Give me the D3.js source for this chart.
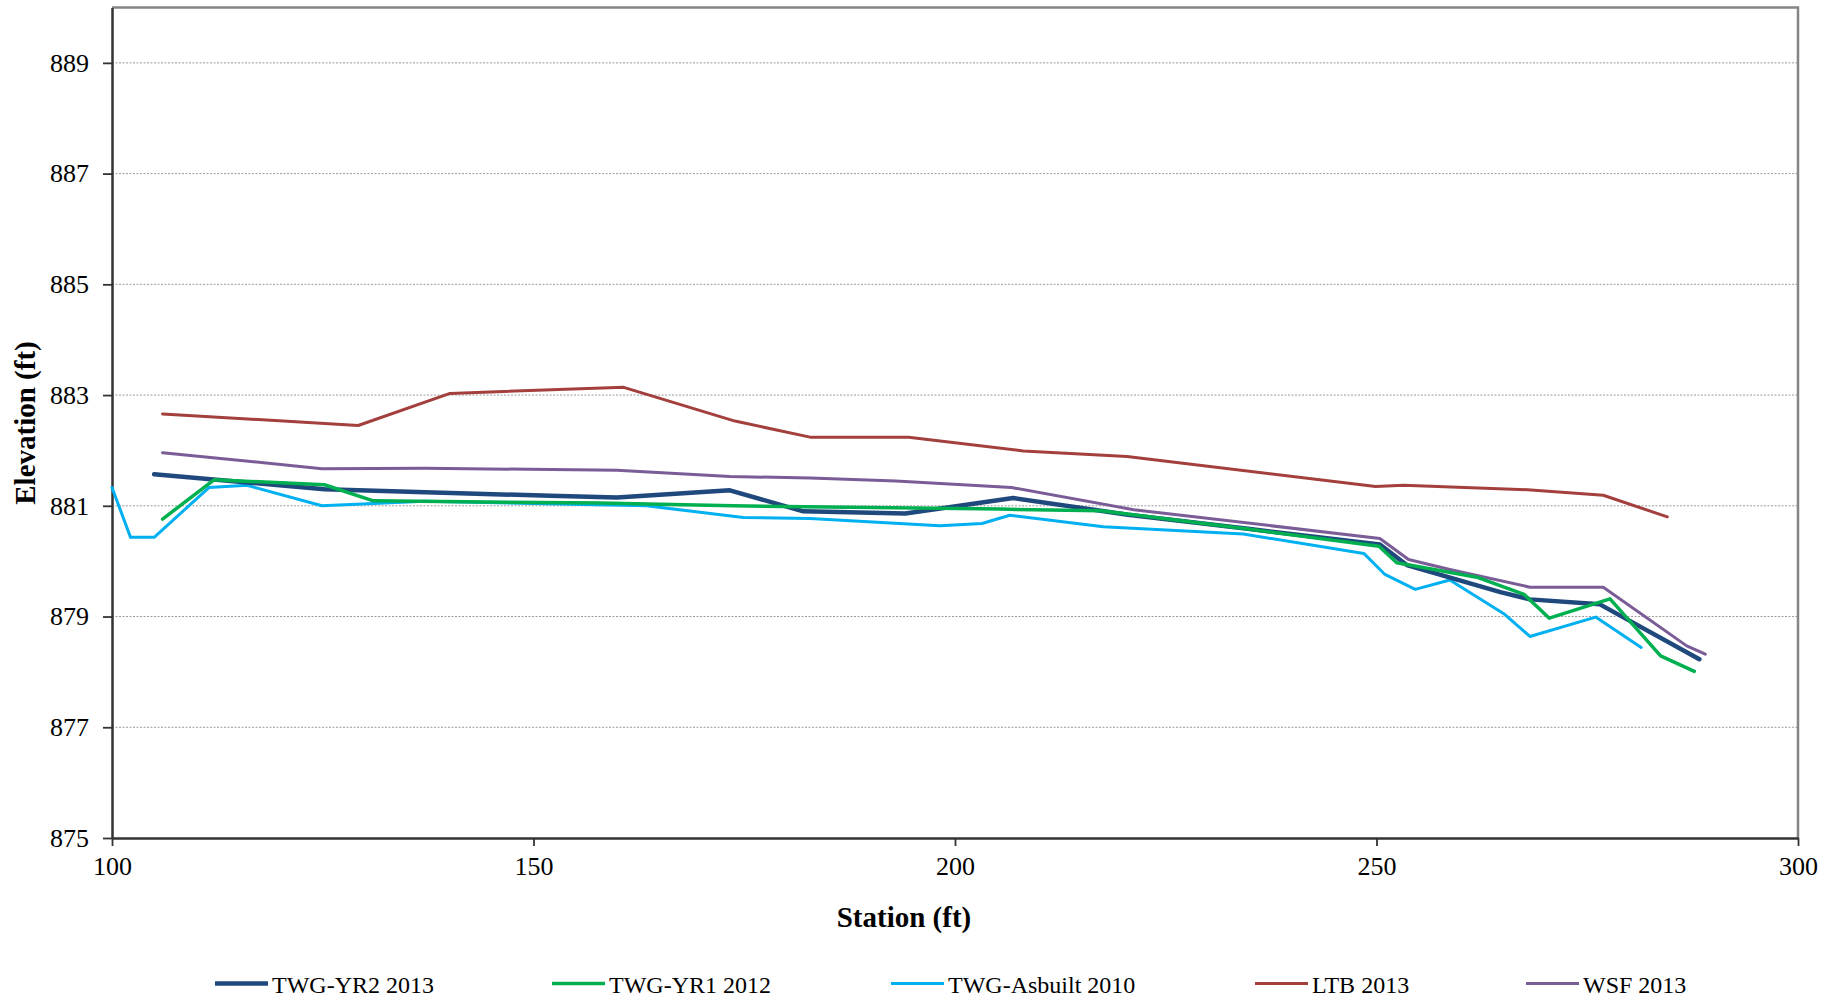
<!DOCTYPE html>
<html>
<head>
<meta charset="utf-8">
<script src="https://cdn.jsdelivr.net/npm/d3@7"></script>
<style>
  body { margin: 0; background: #fff; }
  text { font-family: "Liberation Serif", "Times New Roman", serif; fill: #000; }
</style>
</head>
<body>
<div id="chart"></div>
<script>
var svgWidth = 1843;
var svgHeight = 1001;

var margin = {
  top: 7.5,
  right: 45,
  bottom: 163,
  left: 112
};

var width = svgWidth - margin.left - margin.right;
var height = svgHeight - margin.top - margin.bottom;

// survey data: [station, elevation]
var yr2_2013 = [[105.0, 881.57], [125.2, 881.30], [152.0, 881.18], [159.9, 881.15], [173.3, 881.28],
  [182.0, 880.90], [194.1, 880.86], [206.9, 881.14], [220.5, 880.84], [235.0, 880.58],
  [250.4, 880.30], [253.6, 879.93], [264.7, 879.44], [268.2, 879.31], [276.5, 879.22], [288.3, 878.23]];

var yr1_2012 = [[106.0, 880.76], [112.1, 881.47], [125.2, 881.38], [131.0, 881.09], [157.9, 881.05],
  [173.7, 881.00], [205.4, 880.94], [217.3, 880.91], [234.3, 880.59], [250.3, 880.27],
  [252.4, 879.97], [261.9, 879.71], [267.5, 879.40], [270.5, 878.97], [277.7, 879.32],
  [283.7, 878.29], [287.7, 878.01]];

var asbuilt_2010 = [[100.0, 881.33], [102.2, 880.43], [105.0, 880.43], [111.5, 881.33], [116.0, 881.37],
  [124.9, 881.00], [131.0, 881.04], [137.1, 881.08], [163.4, 881.00], [174.9, 880.79],
  [182.8, 880.77], [198.2, 880.64], [203.2, 880.68], [206.5, 880.83], [217.6, 880.62],
  [234.2, 880.49], [248.5, 880.14], [251.0, 879.76], [254.6, 879.49], [258.7, 879.66],
  [265.2, 879.04], [268.2, 878.64], [276.0, 878.99], [281.4, 878.44]];

var ltb_2013 = [[106.0, 882.66], [129.2, 882.45], [140.1, 883.03], [160.7, 883.14], [173.9, 882.53],
  [182.8, 882.24], [194.5, 882.24], [208.1, 881.99], [220.4, 881.89], [249.9, 881.35],
  [253.2, 881.37], [267.9, 881.29], [276.9, 881.19], [284.5, 880.80]];

var wsf_2013 = [[106.0, 881.96], [124.9, 881.67], [137.1, 881.68], [159.9, 881.64], [173.3, 881.53],
  [182.8, 881.50], [193.0, 881.45], [206.7, 881.33], [221.2, 880.93], [250.4, 880.41],
  [253.8, 880.03], [258.7, 879.85], [268.2, 879.53], [276.9, 879.53], [286.8, 878.47], [289.0, 878.32]];

var seriesNames = ["TWG-YR2 2013", "TWG-YR1 2012", "TWG-Asbuilt 2010", "LTB 2013", "WSF 2013"];
var seriesData = [yr2_2013, yr1_2012, asbuilt_2010, ltb_2013, wsf_2013];
var seriesColors = ["#1F497D", "#00B050", "#00B0F0", "#A33F3C", "#7A5C97"];
var seriesWidths = [4.5, 3.5, 3, 3, 3];

var xTicks = [100, 150, 200, 250, 300];
var yTicks = [875, 877, 879, 881, 883, 885, 887, 889];

var svg = d3
  .select("#chart")
  .append("svg")
  .attr("width", svgWidth)
  .attr("height", svgHeight);

var chartGroup = svg.append("g")
  .attr("transform", `translate(${margin.left}, ${margin.top})`);

var xLinearScale = d3.scaleLinear()
  .domain([100, 300])
  .range([0, width]);

var yLinearScale = d3.scaleLinear()
  .domain([875, 890])
  .range([height, 0]);

// dotted horizontal gridlines
chartGroup.append("g")
  .selectAll("line")
  .data(yTicks.slice(1))
  .enter()
  .append("line")
  .attr("x1", 0)
  .attr("x2", width)
  .attr("y1", d => yLinearScale(d))
  .attr("y2", d => yLinearScale(d))
  .attr("stroke", "#9a9a9a")
  .attr("stroke-width", 1)
  .attr("stroke-dasharray", "2,1.5");

// top and right frame
chartGroup.append("path")
  .attr("d", `M0,0H${width}V${height}`)
  .attr("fill", "none")
  .attr("stroke", "#858585")
  .attr("stroke-width", 2.5);

// axes
var bottomAxis = d3.axisBottom(xLinearScale).tickValues(xTicks).tickSize(8).tickSizeOuter(0).tickPadding(11);
var leftAxis = d3.axisLeft(yLinearScale).tickValues(yTicks).tickSize(9).tickSizeOuter(0).tickPadding(14);

var xAxis = chartGroup.append("g")
  .attr("transform", `translate(0, ${height})`)
  .call(bottomAxis);

var yAxis = chartGroup.append("g")
  .call(leftAxis);

[xAxis, yAxis].forEach(function(ax) {
  ax.select(".domain").attr("stroke", "#333").attr("stroke-width", 2.5);
  ax.selectAll(".tick line").attr("stroke", "#333").attr("stroke-width", 1.8);
  ax.selectAll("text")
    .style("font-family", "'Liberation Serif', 'Times New Roman', serif")
    .style("font-size", "26px")
    .attr("fill", "#000");
});
xAxis.selectAll("text").attr("dy", "0.71em");

// series lines
var line = d3.line()
  .x(d => xLinearScale(d[0]))
  .y(d => yLinearScale(d[1]));

var drawOrder = [2, 4, 3, 0, 1];
drawOrder.forEach(function(i) {
  chartGroup.append("path")
    .datum(seriesData[i])
    .attr("d", line)
    .attr("fill", "none")
    .attr("stroke", seriesColors[i])
    .attr("stroke-width", seriesWidths[i])
    .attr("stroke-linejoin", "round")
    .attr("stroke-linecap", "round");
});

// axis titles
svg.append("text")
  .attr("x", 904)
  .attr("y", 927)
  .attr("text-anchor", "middle")
  .style("font-size", "29px")
  .style("font-weight", "bold")
  .text("Station (ft)");

svg.append("text")
  .attr("transform", "translate(35, 423) rotate(-90)")
  .attr("text-anchor", "middle")
  .style("font-size", "29px")
  .style("font-weight", "bold")
  .text("Elevation (ft)");

// legend
var legendX = [215, 552, 891, 1255, 1526];
var legendGroup = svg.append("g");
seriesNames.forEach(function(name, i) {
  legendGroup.append("line")
    .attr("x1", legendX[i])
    .attr("x2", legendX[i] + 53)
    .attr("y1", 983.5)
    .attr("y2", 983.5)
    .attr("stroke", seriesColors[i])
    .attr("stroke-width", seriesWidths[i]);
  legendGroup.append("text")
    .attr("x", legendX[i] + 57)
    .attr("y", 993)
    .style("font-size", "24px")
    .text(name);
});
</script>
</body>
</html>
